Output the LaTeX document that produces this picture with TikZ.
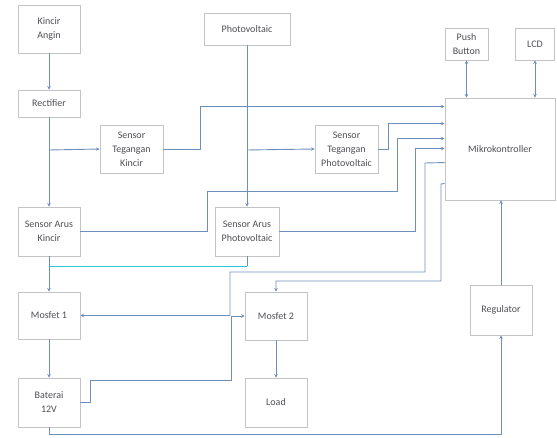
\documentclass[tikz,border=0pt]{standalone}
\usepackage{fontspec}
\setmainfont{Carlito}
\usetikzlibrary{arrows.meta,calc}
\definecolor{wire}{RGB}{110,142,190}
\definecolor{cyanwire}{RGB}{40,200,215}
\definecolor{boxline}{RGB}{195,195,200}
\definecolor{txt}{RGB}{80,80,85}
\tikzset{
  blk/.style={draw=boxline, line width=0.9pt, fill=white, text=txt, align=center,
    font=\fontsize{10}{14}\selectfont, inner sep=1pt},
  arr/.style={draw=wire, line width=0.9pt, -{Stealth[length=3.5pt,width=3.5pt]}},
  darr/.style={draw=wire, line width=0.9pt, {Stealth[length=3.5pt,width=3.5pt]}-{Stealth[length=3.5pt,width=3.5pt]}},
  ln/.style={draw=wire, line width=0.9pt},
}
\begin{document}
\begin{tikzpicture}[x=1pt,y=-1pt]
\useasboundingbox (0,0) rectangle (557,438);
% boxes
\node[blk, minimum width=62pt, minimum height=48pt] (kincir) at (49,29) {Kincir\\Angin};
\node[blk, minimum width=62pt, minimum height=27pt] (rect) at (49,103.5) {Rectifier};
\node[blk, minimum width=63pt, minimum height=48pt] (stk) at (131.5,149) {Sensor\\Tegangan\\Kincir};
\node[blk, minimum width=86pt, minimum height=32pt] (pv) at (247,29) {Photovoltaic};
\node[blk, minimum width=62pt, minimum height=49pt] (sak) at (49,231.5) {Sensor Arus\\Kincir};
\node[blk, minimum width=64pt, minimum height=49pt] (sapv) at (247,231.5) {Sensor Arus\\Photovoltaic};
\node[blk, minimum width=63pt, minimum height=48pt] (stpv) at (346.5,149) {Sensor\\Tegangan\\Photovoltaic};
\node[blk, minimum width=110pt, minimum height=102pt] (mikro) at (500,149) {Mikrokontroller};
\node[blk, minimum width=43pt, minimum height=32pt] (pb) at (466.5,44) {Push\\Button};
\node[blk, minimum width=39pt, minimum height=32pt] (lcd) at (535,44) {LCD};
\node[blk, minimum width=62pt, minimum height=47pt] (m1) at (49,315.5) {Mosfet 1};
\node[blk, minimum width=62pt, minimum height=49pt] (bat) at (49,402.5) {Baterai\\12V};
\node[blk, minimum width=62pt, minimum height=48pt] (m2) at (276,316) {Mosfet 2};
\node[blk, minimum width=62pt, minimum height=49pt] (load) at (276,402.5) {Load};
\node[blk, minimum width=62pt, minimum height=50pt] (reg) at (501,310) {Regulator};
% junction coordinates
\coordinate (jr) at (49,150);
\coordinate (jp) at (247,150);
\coordinate (jk) at (49,266);
% wind chain
\draw[arr] (kincir) -- (rect);
\draw[arr] (rect) -- (sak);
\draw[arr] (jr) -- (stk.west);
\draw[arr] (stk.east) -- (200,149) |- ([yshift=-9pt]mikro.north west);
% pv chain
\draw[arr] (pv) -- (sapv);
\draw[arr] (jp) -- (stpv.west);
\draw[arr] (stpv.east) -- (388,149) |- ([yshift=-26pt]mikro.north west);
% current sensors to mikro
\draw[arr] (sak.east) -- (207,231.5) -- (207,191) -- (397,191) |- ([yshift=-41pt]mikro.north west);
\draw[arr] (sapv.east) -- (415,231.5) |- ([yshift=-51pt]mikro.north west);
% to mosfets
\draw[arr] (sak) -- (m1);
\draw[ln] (sapv.south) -- (247,266);
\draw[draw=cyanwire, line width=0.9pt] (247,266) -- (jk);
\draw[arr] ([yshift=-65pt]mikro.north west) -- (425,163) -- (425,272) -- (230,272) |- (m1.east);
\draw[arr] ([yshift=-86pt]mikro.north west) -- (441,184) -- (441,281) -| (m2.north);
\draw[arr] (bat.east) -- (90,402.5) -- (90,380) -- (231,380) |- (m2.west);
\draw[arr] (m1) -- (bat);
\draw[arr] (m2) -- (load);
% power
\draw[arr] (bat.south) -- (49,434) -| (reg.south);
\draw[arr] (reg.north) -- (reg.north |- mikro.south);
\draw[darr] (pb.south) -- (pb.south |- mikro.north);
\draw[darr] (lcd.south) -- (lcd.south |- mikro.north);
\end{tikzpicture}
\end{document}
